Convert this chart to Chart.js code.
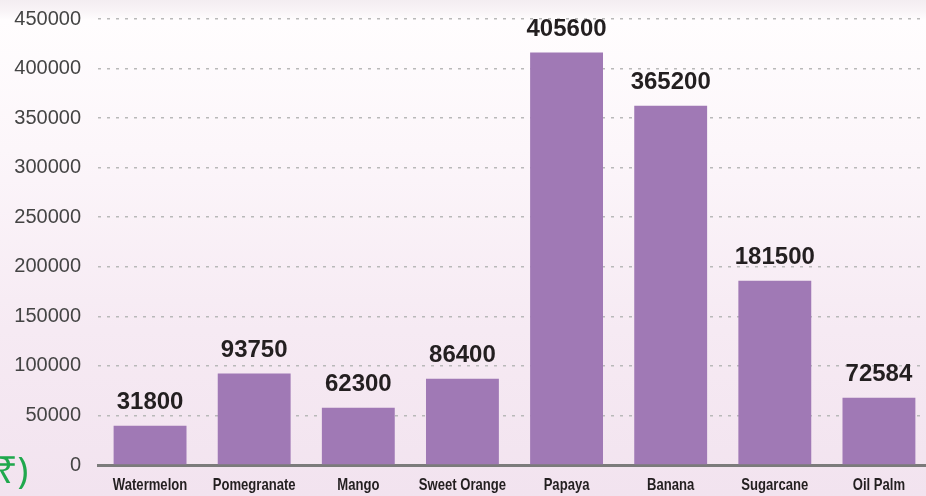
<!DOCTYPE html>
<html lang="en">
<head>
    <meta charset="UTF-8">
    <title>Crop values</title>
    <script src="https://cdn.jsdelivr.net/npm/chart.js"></script>
    <style>
        html, body {
            margin: 0;
            padding: 0;
            width: 926px;
            height: 496px;
            overflow: hidden;
        }
        body {
            background: linear-gradient(to bottom, #f3edf1 0px, #f8f3f6 10px, #fffdfe 20px, #fcf6fa 150px, #f6eaf3 330px, #f2e3ef 496px);
            position: relative;
        }
        #wrap {
            position: absolute;
            left: 0;
            top: 0;
            width: 931px;
            height: 496px;
        }
        #unit {
            position: absolute;
            left: -3px;
            top: 447px;
            font-family: "Noto Sans", "DejaVu Sans", sans-serif;
            font-size: 36px;
            line-height: 46px;
            color: #1fa84d;
        }
    </style>
</head>
<body>
    <div id="wrap"><canvas id="crop-chart"></canvas></div>
    <div id="unit">₹)</div>

    <script>
        // categories and values
        const crops = ['Watermelon', 'Pomegranate', 'Mango', 'Sweet Orange', 'Papaya', 'Banana', 'Sugarcane', 'Oil Palm'];
        // bar heights as drawn in the picture
        const barHeights = [39600, 92400, 57800, 87100, 416300, 362500, 186000, 67900];
        // numbers printed above the bars
        const printedValues = ['31800', '93750', '62300', '86400', '405600', '365200', '181500', '72584'];
        const yTicks = [0, 50000, 100000, 150000, 200000, 250000, 300000, 350000, 400000, 450000];

        // writes the printed number above each bar and the condensed category names
        const barText = {
            id: 'barText',
            afterDatasetsDraw(chart) {
                const ctx = chart.ctx;
                const meta = chart.getDatasetMeta(0);
                const xScale = chart.scales.x;
                ctx.save();
                ctx.font = 'bold 24px "Liberation Sans", Arial, sans-serif';
                ctx.fillStyle = '#231f20';
                ctx.textAlign = 'center';
                ctx.textBaseline = 'middle';
                meta.data.forEach((bar, i) => {
                    ctx.fillText(printedValues[i], bar.x, bar.y - 23);
                });
                // category names, squeezed like a condensed face
                ctx.font = 'bold 17px "Liberation Sans", Arial, sans-serif';
                crops.forEach((name, i) => {
                    const x = xScale.getPixelForValue(i);
                    ctx.save();
                    ctx.translate(x, xScale.top + 20);
                    ctx.scale(0.77, 1);
                    ctx.fillText(name, 0, 0);
                    ctx.restore();
                });
                ctx.restore();
            }
        };

        document.addEventListener("DOMContentLoaded", () => {
            const canvas = document.getElementById("crop-chart");
            new Chart(canvas, {
                type: 'bar',
                data: {
                    labels: crops,
                    datasets: [{
                        data: barHeights,
                        backgroundColor: '#a079b5',
                        borderWidth: 0,
                        categoryPercentage: 1,
                        barPercentage: 0.70
                    }]
                },
                options: {
                    responsive: true,
                    maintainAspectRatio: false,
                    animation: false,
                    layout: {
                        padding: { top: 19, left: 0, right: 0, bottom: 0 }
                    },
                    plugins: {
                        legend: { display: false },
                        tooltip: { enabled: false }
                    },
                    scales: {
                        x: {
                            grid: { display: false, drawTicks: false },
                            border: { display: true, color: '#7b7b7b', width: 3 },
                            ticks: { display: false },
                            afterFit: (s) => { s.height = 31; s.paddingLeft = 0; s.paddingRight = 0; }
                        },
                        y: {
                            min: 0,
                            max: 450000,
                            afterBuildTicks: (s) => { s.ticks = yTicks.map(v => ({ value: v })); },
                            grid: {
                                color: '#b9b9b9',
                                lineWidth: 1.5,
                                drawTicks: false
                            },
                            border: { display: false, dash: [3, 6] },
                            ticks: {
                                padding: 17,
                                color: '#444444',
                                callback: (v) => String(v),
                                font: { family: '"Liberation Sans", Arial, sans-serif', size: 20 }
                            },
                            afterFit: (s) => { s.width = 98; s.paddingTop = 0; s.paddingBottom = 0; }
                        }
                    }
                },
                plugins: [barText]
            });
        });
    </script>
</body>
</html>
